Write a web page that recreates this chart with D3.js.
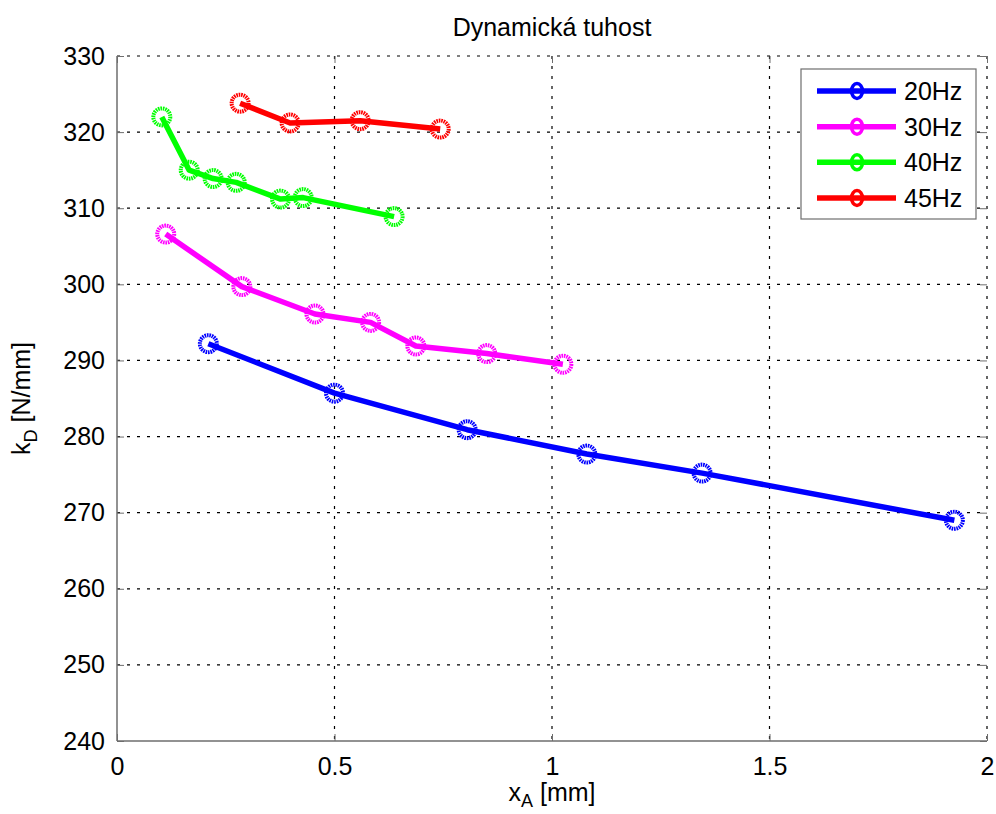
<!DOCTYPE html>
<html>
<head>
<meta charset="utf-8">
<script src="https://cdn.jsdelivr.net/npm/d3@7"></script>
<style>
  body { margin: 0; background: #fff; }
  text { font-family: "Liberation Sans", Arial, sans-serif; fill: #000; }
</style>
</head>
<body>
<div id="chart"></div>
<script>
var series = ["20Hz", "30Hz", "40Hz", "45Hz"];
var colors = ["#0000ff", "#ff00ff", "#00ff00", "#ff0000"];

var x20 = [0.21, 0.50, 0.805, 1.08, 1.345, 1.925];
var k20 = [292.2, 285.7, 280.9, 277.7, 275.2, 269.0];
var x30 = [0.112, 0.287, 0.455, 0.583, 0.687, 0.850, 1.025];
var k30 = [306.6, 299.7, 296.1, 295.0, 291.9, 290.9, 289.5];
var x40 = [0.103, 0.166, 0.221, 0.274, 0.376, 0.428, 0.637];
var k40 = [322.0, 315.0, 313.9, 313.4, 311.2, 311.4, 308.9];
var x45 = [0.283, 0.398, 0.559, 0.743];
var k45 = [323.8, 321.2, 321.5, 320.4];

var xTicks = [0, 0.5, 1, 1.5, 2];
var yTicks = [240, 250, 260, 270, 280, 290, 300, 310, 320, 330];

var titleText = "Dynamická tuhost";

var W = 996, H = 814;
var margin = {top: 56, right: 9, bottom: 73, left: 117};
var width = W - margin.left - margin.right;
var height = H - margin.top - margin.bottom;

var data = [[x20, k20], [x30, k30], [x40, k40], [x45, k45]].map(function(p, i) {
    return {
        name: series[i],
        color: colors[i],
        pts: p[0].map(function(v, j) { return {x: v, y: p[1][j]}; })
    };
});

var xScale = d3.scaleLinear().domain([0, 2]).range([0, width]);
var yScale = d3.scaleLinear().domain([240, 330]).range([height, 0]);

var svg = d3.select("#chart").append("svg")
    .attr("width", W)
    .attr("height", H);

var g = svg.append("g")
    .attr("transform", "translate(" + margin.left + "," + margin.top + ")");

// grid
g.append("g").selectAll("line").data(xTicks.slice(1)).enter()
    .append("line")
    .attr("x1", function(d) { return xScale(d); })
    .attr("x2", function(d) { return xScale(d); })
    .attr("y1", 0).attr("y2", height)
    .attr("stroke", "#000").attr("stroke-width", 1.2)
    .attr("stroke-dasharray", "3,7");

g.append("g").selectAll("line").data(yTicks.slice(1)).enter()
    .append("line")
    .attr("y1", function(d) { return yScale(d); })
    .attr("y2", function(d) { return yScale(d); })
    .attr("x1", 0).attr("x2", width)
    .attr("stroke", "#000").attr("stroke-width", 1.2)
    .attr("stroke-dasharray", "3,7");

// axes (inward ticks, matlab style)
var axisColor = "#6e6e6e";
g.append("g")
    .attr("transform", "translate(0," + height + ")")
    .call(d3.axisBottom(xScale).tickValues(xTicks).tickSize(-7).tickPadding(16)
        .tickFormat(function(d) { return d; }));
g.append("g")
    .call(d3.axisLeft(yScale).tickValues(yTicks).tickSize(-7).tickPadding(12));
g.append("g")
    .call(d3.axisTop(xScale).tickValues(xTicks).tickSize(-7).tickFormat(""));
g.append("g")
    .attr("transform", "translate(" + width + ",0)")
    .call(d3.axisRight(yScale).tickValues(yTicks).tickSize(-7).tickFormat(""));

g.selectAll(".domain").attr("stroke", "none");
g.selectAll(".tick line").attr("stroke", axisColor);
g.selectAll(".tick text")
    .style("font-family", "Liberation Sans, Arial, sans-serif")
    .style("font-size", "25px")
    .attr("fill", "#000");

g.append("line").attr("x1", 0).attr("x2", 0).attr("y1", 0).attr("y2", height)
    .attr("stroke", axisColor).attr("stroke-width", 1.5);
g.append("line").attr("x1", 0).attr("x2", width).attr("y1", height).attr("y2", height)
    .attr("stroke", axisColor).attr("stroke-width", 1.5);

// series
var line = d3.line()
    .x(function(d) { return xScale(d.x); })
    .y(function(d) { return yScale(d.y); });

var sg = g.selectAll(".series").data(data).enter()
    .append("g").attr("class", "series");

sg.append("path")
    .attr("d", function(d) { return line(d.pts); })
    .attr("fill", "none")
    .attr("stroke", function(d) { return d.color; })
    .attr("stroke-width", 5.5)
    .attr("stroke-linejoin", "round");

sg.selectAll("circle").data(function(d) {
        return d.pts.map(function(p) { return {x: p.x, y: p.y, color: d.color}; });
    }).enter()
    .append("circle")
    .attr("cx", function(d) { return xScale(d.x); })
    .attr("cy", function(d) { return yScale(d.y); })
    .attr("r", 8.5)
    .attr("fill", "none")
    .attr("stroke", function(d) { return d.color; })
    .attr("stroke-width", 4)
    .attr("stroke-dasharray", "1.6,0.8");

// title and labels
svg.append("text")
    .attr("x", margin.left + width / 2)
    .attr("y", 36)
    .attr("text-anchor", "middle")
    .style("font-size", "25px")
    .text(titleText);

var xl = svg.append("text")
    .attr("x", margin.left + width / 2)
    .attr("y", 801)
    .attr("text-anchor", "middle")
    .style("font-size", "25px");
xl.append("tspan").text("x");
xl.append("tspan").attr("dy", 6).style("font-size", "18px").text("A");
xl.append("tspan").attr("dy", -6).text(" [mm]");

var yl = svg.append("text")
    .attr("transform", "translate(30," + (margin.top + height / 2) + ") rotate(-90)")
    .attr("text-anchor", "middle")
    .style("font-size", "25px");
yl.append("tspan").text("k");
yl.append("tspan").attr("dy", 7).style("font-size", "18px").text("D");
yl.append("tspan").attr("dy", -7).text(" [N/mm]");

// legend
var lg = svg.append("g").attr("transform", "translate(801,69)");
lg.append("rect")
    .attr("width", 175).attr("height", 150)
    .attr("fill", "#fff")
    .attr("stroke", axisColor).attr("stroke-width", 1.2);

var rowY = d3.scalePoint().domain(series).range([22, 129]);
var item = lg.selectAll(".item").data(data).enter()
    .append("g")
    .attr("transform", function(d) { return "translate(0," + rowY(d.name) + ")"; });
item.append("line")
    .attr("x1", 16).attr("x2", 95)
    .attr("stroke", function(d) { return d.color; })
    .attr("stroke-width", 5.5);
item.append("ellipse")
    .attr("cx", 56).attr("rx", 5.5).attr("ry", 7.5)
    .attr("fill", "none")
    .attr("stroke", function(d) { return d.color; })
    .attr("stroke-width", 3.5);
item.append("text")
    .attr("x", 103).attr("y", 9)
    .style("font-size", "25px")
    .text(function(d) { return d.name; });
</script>
</body>
</html>
